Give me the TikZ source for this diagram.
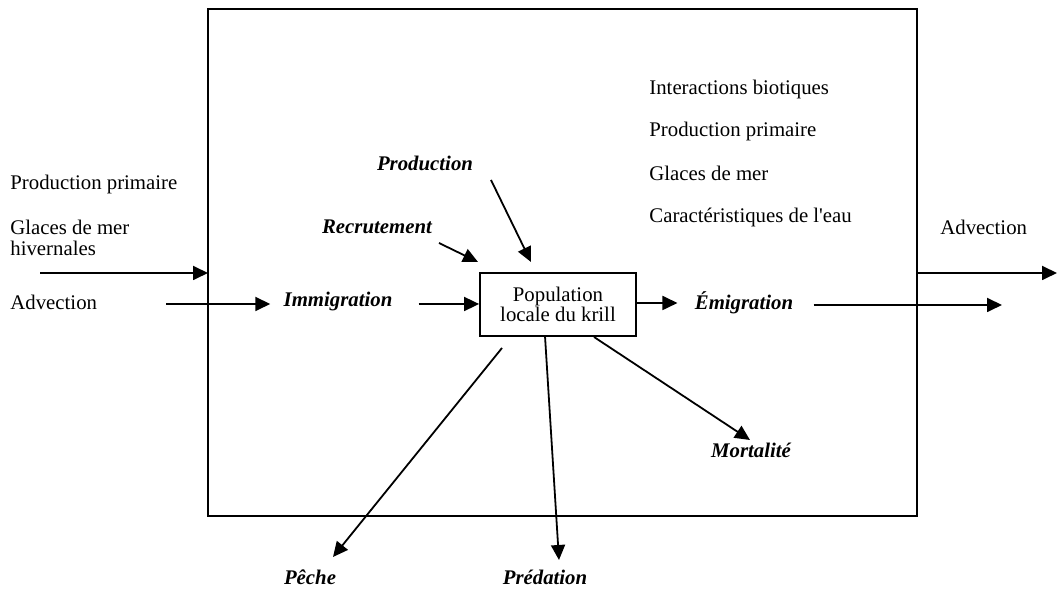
\documentclass[tikz,border=0pt]{standalone}
\usepackage{fontspec}
\setmainfont{Liberation Serif}
\usepackage{tikz}
\usetikzlibrary{arrows.meta}
\usetikzlibrary{positioning}
\tikzset{flow/.style = {line width=0.9pt,
                        -{Triangle[length=7.5pt,width=7pt]}},
         txt/.style = {inner sep=0pt, anchor=west,
                       font=\fontsize{10.4}{10.5}\selectfont},
         term/.style = {inner sep=0pt,
                        font=\fontsize{10.4}{11}\selectfont\bfseries\itshape},
         popbox/.style = {draw, line width=0.9pt, minimum width=78pt,
                          minimum height=31.5pt, inner sep=0pt, align=center,
                          font=\fontsize{10.4}{10}\selectfont}}

\begin{document}
\begin{tikzpicture}[x=0.5pt, y=-0.5pt]
      \useasboundingbox (0,0) rectangle (1057,592);

      \coordinate (nw) at (208,9);
      \coordinate (se) at (917,516);
      \draw [line width=1pt] (nw) rectangle (se);

      \node [txt] (ppL) at (10,185) {Production primaire};
      \node [txt, align=left] (glL) at (10,237.5) {Glaces de mer\\hivernales};
      \node [txt] (advL) at (10,302) {Advection};
      \node [txt] (advR) at (940,227) {Advection};

      \node [txt] (inter) at (649,90) {Interactions biotiques};
      \node [txt] (ppR) at (649,132) {Production primaire};
      \node [txt] (glR) at (649,173) {Glaces de mer};
      \node [txt] (eau) at (649,217) {Caract\'eristiques de l\textquotesingle eau};

      \node [popbox] (pop) at (558,304.5) {Population\\locale du krill};
      \node [term] (immig) at (338,302) {Immigration};
      \node [term] (emig) at (744,303) {\'Emigration};
      \node [term] (prod) at (425,163) {Production};
      \node [term] (recr) at (377,227) {Recrutement};
      \node [term] (mort) at (751,450) {Mortalit\'e};
      \node [term] (peche) at (310,577) {P\^eche};
      \node [term] (pred) at (545,577) {Pr\'edation};

      % flux entrants
      \coordinate (glIn) at (40,273);
      \draw [flow] (glIn) -- (glIn -| nw);
      \coordinate (advIn) at (166,304);
      \draw [flow, shorten >=6.5pt] (advIn) -- (advIn -| immig.west);
      \draw [flow, shorten <=13pt] (immig.east |- advIn) -- (advIn -| pop.west);
      \coordinate (prodA) at (491,180);
      \coordinate (prodB) at (531,262);
      \draw [flow] (prodA) -- (prodB);
      \coordinate (recrA) at (439,243);
      \coordinate (recrB) at (478,262);
      \draw [flow] (recrA) -- (recrB);

      % flux sortants
      \draw [flow, shorten >=8.5pt] (pop.east |- emig) -- (emig.west);
      \coordinate (emigOut) at (1002,305);
      \draw [flow, shorten <=10pt] (emig.east |- emigOut) -- (emigOut);
      \coordinate (advOut) at (1057,273);
      \draw [flow] (advOut -| se) -- (advOut);

      \coordinate (pecheA) at (502,348);
      \coordinate (pecheB) at (333,557);
      \draw [flow] (pecheA) -- (pecheB);
      \coordinate (predA) at (545,336);
      \coordinate (predB) at (559,560);
      \draw [flow] (predA) -- (predB);
      \coordinate (mortA) at (594,337);
      \coordinate (mortB) at (750,440);
      \draw [flow] (mortA) -- (mortB);
    \end{tikzpicture}
\end{document}
